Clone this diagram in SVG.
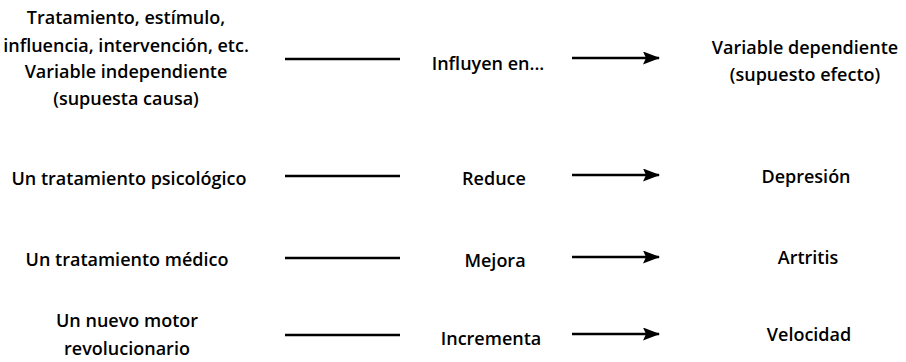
<svg xmlns="http://www.w3.org/2000/svg" width="906" height="362" viewBox="0 0 906 362">
<style>
text{font-family:"Open Sans","Liberation Sans",sans-serif;font-weight:600;font-size:18px;fill:#000;text-anchor:middle;dominant-baseline:central}
.ln{stroke:#000;stroke-width:2.6;fill:none}
</style>
<defs>
<marker id="ah" markerUnits="userSpaceOnUse" markerWidth="17" markerHeight="13" refX="16" refY="6.5" orient="auto">
<path d="M0,0 L17,6.5 L0,13 L3,6.5 Z" fill="#000"/>
</marker>
</defs>
<rect width="906" height="362" fill="#fff"/>
<g id="connectors">
<line class="ln" x1="285" y1="59" x2="400" y2="59"/>
<line class="ln" x1="572" y1="58" x2="659" y2="58" marker-end="url(#ah)"/>
<line class="ln" x1="285" y1="176" x2="400" y2="176"/>
<line class="ln" x1="572" y1="175" x2="659" y2="175" marker-end="url(#ah)"/>
<line class="ln" x1="285" y1="258" x2="400" y2="258"/>
<line class="ln" x1="572" y1="257" x2="659" y2="257" marker-end="url(#ah)"/>
<line class="ln" x1="285" y1="335" x2="400" y2="335"/>
<line class="ln" x1="572" y1="334" x2="659" y2="334" marker-end="url(#ah)"/>
</g>
<g id="cause-header">
<text x="126" y="17">Tratamiento, estímulo,</text>
<text x="126" y="45">influencia, intervención, etc.</text>
<text x="126" y="71">Variable independiente</text>
<text x="126" y="98">(supuesta causa)</text>
</g>
<g id="verb-header"><text x="488" y="63">Influyen en...</text></g>
<g id="effect-header">
<text x="805" y="47">Variable dependiente</text>
<text x="805" y="74">(supuesto efecto)</text>
</g>
<g id="cause-1"><text x="129" y="178">Un tratamiento psicológico</text></g>
<g id="verb-1"><text x="494" y="178">Reduce</text></g>
<g id="effect-1"><text x="806" y="176">Depresión</text></g>
<g id="cause-2"><text x="127" y="259">Un tratamiento médico</text></g>
<g id="verb-2"><text x="495" y="260">Mejora</text></g>
<g id="effect-2"><text x="808" y="257">Artritis</text></g>
<g id="cause-3">
<text x="127" y="320">Un nuevo motor</text>
<text x="127" y="348">revolucionario</text>
</g>
<g id="verb-3"><text x="491" y="338">Incrementa</text></g>
<g id="effect-3"><text x="809" y="334">Velocidad</text></g>
</svg>
